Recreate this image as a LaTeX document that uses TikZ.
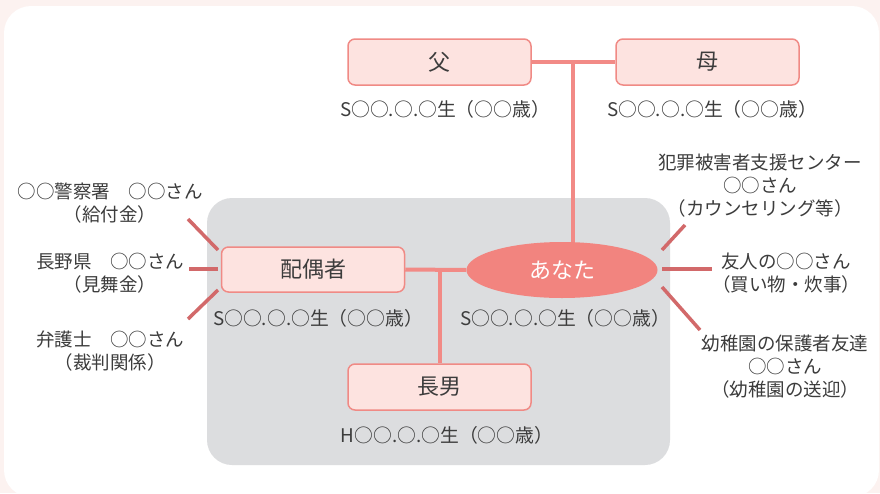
\documentclass[tikz,border=0pt]{standalone}
\usepackage{fontspec}
\setmainfont{Noto Sans CJK JP}
\usetikzlibrary{shapes.geometric,backgrounds}
\definecolor{pagebg}{HTML}{FCF2F0}
\definecolor{greybg}{HTML}{DCDDDF}
\definecolor{boxfill}{HTML}{FDE3E0}
\definecolor{boxdraw}{HTML}{F08A85}
\definecolor{ellfill}{HTML}{F2847F}
\definecolor{conncol}{HTML}{F28A86}
\definecolor{spokecol}{HTML}{D2696A}
\definecolor{txt}{HTML}{3C3C3C}
\tikzset{
  fambox/.style={draw=boxdraw, line width=1.5pt, fill=boxfill, rounded corners=7pt,
    minimum width=183pt, minimum height=46pt, inner sep=0pt, text=txt,
    font=\fontsize{22}{26}\selectfont},
  youell/.style={ellipse, fill=ellfill, minimum width=191pt, minimum height=56pt,
    inner sep=0pt, text=white, font=\fontsize{22}{26}\selectfont},
  datetext/.style={text=txt, inner sep=0pt, font=\fontsize{18.8}{22}\selectfont},
  sidelabel/.style={text=txt, inner sep=0pt, align=center, font=\fontsize{18.5}{23}\selectfont},
  conn/.style={draw=conncol, line width=4pt},
  spoke/.style={draw=spokecol, line width=3.5pt}
}
\begin{document}
\begin{tikzpicture}[x=1pt,y=-1pt]
\useasboundingbox (0,0) rectangle (880,493);
% family nodes
\node[fambox] (father) at (439.5,62) {父};
\node[fambox] (mother) at (707.5,62) {母};
\node[fambox, minimum height=45pt] (spouse) at (313,269.5) {配偶者};
\node[fambox] (son) at (439.5,387) {長男};
\node[youell] (you) at (562,270) {あなた};
% dates
\node[datetext] (fatherdate) at (445,109) {S○○.○.○生（○○歳）};
\node[datetext] (motherdate) at (712,109) {S○○.○.○生（○○歳）};
\node[datetext] (spousedate) at (318,318) {S○○.○.○生（○○歳）};
\node[datetext] (youdate) at (565,318) {S○○.○.○生（○○歳）};
\node[datetext] (sondate) at (447,435) {H○○.○.○生（○○歳）};
% side labels
\node[sidelabel] (police) at (110,203.5) {○○警察署　○○さん\\（給付金）};
\node[sidelabel] (pref) at (110,273.5) {長野県　○○さん\\（見舞金）};
\node[sidelabel] (lawyer) at (110,351) {弁護士　○○さん\\（裁判関係）};
\node[sidelabel] (center) at (760,186) {犯罪被害者支援センター\\○○さん\\（カウンセリング等）};
\node[sidelabel] (friend) at (786,273) {友人の○○さん\\（買い物・炊事）};
\node[sidelabel] (kinder) at (785,367) {幼稚園の保護者友達\\○○さん\\（幼稚園の送迎）};
% spoke end points
\coordinate (l1a) at (188,219); \coordinate (l1b) at (218,250);
\coordinate (l2a) at (189,269); \coordinate (l2b) at (218,269);
\coordinate (l3a) at (188,319); \coordinate (l3b) at (218,290);
\coordinate (r1a) at (685,225); \coordinate (r1b) at (662,250);
\coordinate (r2a) at (662,269); \coordinate (r2b) at (712,269);
\coordinate (r3a) at (662,287); \coordinate (r3b) at (700,330);
\coordinate (pm) at (573,62);
\coordinate (sm) at (439.5,270);
\begin{scope}[on background layer]
  \fill[pagebg] (0,0) rectangle (880,493);
  \fill[white, rounded corners=27pt] (4,6) rectangle (879,497);
  \fill[greybg, rounded corners=25pt] (207,198) rectangle (670,465);
  \draw[conn] (father.east) -- (mother.west);
  \draw[conn] (pm) -- (pm |- you.center);
  \draw[conn] (spouse.east) -- (you.west);
  \draw[conn] (sm) -- (son.north);
  \draw[spoke] (l1a) -- (l1b);
  \draw[spoke] (l2a) -- (l2b);
  \draw[spoke] (l3a) -- (l3b);
  \draw[spoke] (r1a) -- (r1b);
  \draw[spoke] (r2a) -- (r2b);
  \draw[spoke] (r3a) -- (r3b);
\end{scope}
\end{tikzpicture}
\end{document}
